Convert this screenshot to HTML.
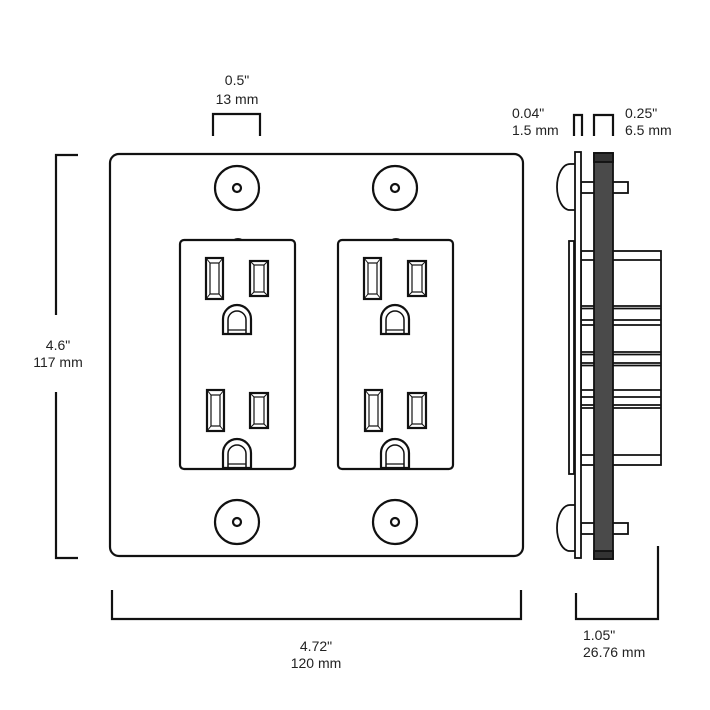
<!DOCTYPE html>
<html><head><style>
body{margin:0;background:#fff}
svg{display:block}
text{font-family:"Liberation Sans",sans-serif;font-size:14px;fill:#222}
</style></head><body>
<svg width="710" height="710" viewBox="0 0 710 710" xmlns="http://www.w3.org/2000/svg">
<defs>
<g id="slotB"><rect x="0" y="0" width="17" height="41" fill="none" stroke="#111" stroke-width="2.2"/><rect x="4" y="5" width="9" height="31" fill="none" stroke="#111" stroke-width="1.2"/><path d="M0 0L4 5M17 0L13 5M0 41L4 36M17 41L13 36" stroke="#111" stroke-width="1"/></g>
<g id="slotS"><rect x="0" y="0" width="18" height="35" fill="none" stroke="#111" stroke-width="2.2"/><rect x="4" y="4" width="10" height="27" fill="none" stroke="#111" stroke-width="1.2"/><path d="M0 0L4 4M18 0L14 4M0 35L4 31M18 35L14 31" stroke="#111" stroke-width="1"/></g>
<g id="gnd"><path d="M0 29V14A14 14 0 0 1 28 14V29Z" fill="none" stroke="#111" stroke-width="2.2"/><path d="M5 29V15A9 9 0 0 1 23 15V29" fill="none" stroke="#111" stroke-width="1.5"/><line x1="5" y1="25" x2="23" y2="25" stroke="#111" stroke-width="1.2"/></g>
<g id="outlet">
<path d="M52 2 a6 4 0 0 1 12 0" fill="#222"/>
<rect x="0" y="0" width="115" height="229" rx="4" fill="#fff" stroke="#111" stroke-width="2.2"/>
<use href="#slotB" x="26" y="18"/><use href="#slotS" x="70" y="21"/><use href="#gnd" x="43" y="65"/>
<use href="#slotB" x="27" y="150"/><use href="#slotS" x="70" y="153"/><use href="#gnd" x="43" y="199"/>
</g>
<g id="screw"><circle r="22" fill="#fff" stroke="#111" stroke-width="2.2"/><circle r="4" fill="none" stroke="#111" stroke-width="2.2"/></g>
</defs>

<rect x="110" y="154" width="413" height="402" rx="9" fill="#fff" stroke="#111" stroke-width="2.2"/>
<use href="#screw" x="237" y="188"/><use href="#screw" x="395" y="188"/>
<use href="#screw" x="237" y="522"/><use href="#screw" x="395" y="522"/>
<use href="#outlet" x="180" y="240"/><use href="#outlet" x="338" y="240"/>

<g fill="none" stroke="#111" stroke-width="2.2">
<path d="M213 136V114H260V136"/>
<path d="M78 155H56V315M56 392V558H78"/>
<path d="M112 590V619H521V590"/>
<path d="M574 136V115H582V136"/>
<path d="M594 136V115H613V136"/>
<path d="M576 593V619H658V546"/>
</g>
<text x="237" y="85" text-anchor="middle">0.5"</text>
<text x="237" y="104" text-anchor="middle">13 mm</text>
<text x="58" y="350" text-anchor="middle">4.6"</text>
<text x="58" y="367" text-anchor="middle">117 mm</text>
<text x="316" y="651" text-anchor="middle">4.72"</text>
<text x="316" y="668" text-anchor="middle">120 mm</text>
<text x="512" y="118">0.04"</text>
<text x="512" y="135">1.5 mm</text>
<text x="625" y="118">0.25"</text>
<text x="625" y="135">6.5 mm</text>
<text x="583" y="640">1.05"</text>
<text x="583" y="657">26.76 mm</text>

<g stroke="#111" stroke-width="1.8" fill="#fff">
<path d="M575 164H570A13 23 0 0 0 570 210H575" />
<path d="M575 505H570A13 23 0 0 0 570 551H575" />
<rect x="581" y="251" width="80" height="214"/>
<path d="M581 260H661M581 306H661M581 308.5H661M581 320H661M581 325H661M581 352H661M581 354.5H661M581 363H661M581 365.5H661M581 390H661M581 397H661M581 405H661M581 408H661M581 455H661" fill="none"/>
<rect x="581" y="182" width="47" height="11"/>
<rect x="581" y="523" width="47" height="11"/>
<rect x="569" y="241" width="5" height="233"/>
<rect x="575" y="152" width="6" height="406"/>
<rect x="594" y="153" width="19" height="406" fill="#4a4a4a"/>
<rect x="594" y="153" width="19" height="9" fill="#333"/>
<rect x="594" y="551" width="19" height="8" fill="#333"/>
</g>
</svg>
</body></html>
